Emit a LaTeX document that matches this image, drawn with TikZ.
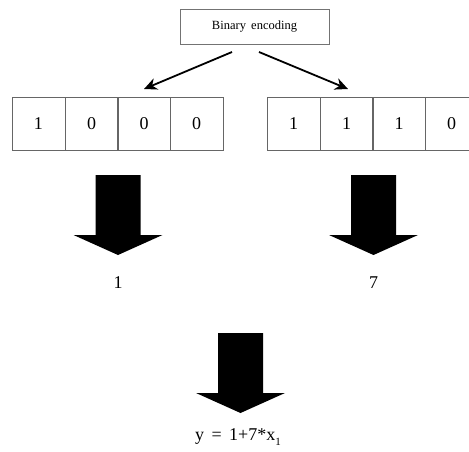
\documentclass[tikz,border=0pt]{standalone}
\usepackage{fontspec}
\setmainfont{Liberation Serif}
\usetikzlibrary{arrows.meta}
\tikzset{
  cell/.style={draw=black!60, line width=0.8pt, minimum width=53pt, minimum height=53pt, inner sep=0pt, font=\fontsize{18}{20}\selectfont},
  titlebox/.style={draw=black!55, line width=0.8pt, minimum width=149pt, minimum height=35pt, inner sep=0pt, font=\fontsize{12.5}{14}\selectfont},
  thin arrow/.style={line width=1.8pt, -{Stealth[length=13pt,width=12pt]}},
  lbl/.style={font=\fontsize{18}{20}\selectfont, inner sep=0pt},
  bigarrow/.pic={\fill[black] (-22.5,0) -- (22.5,0) -- (22.5,60) -- (44.5,60) -- (0,80) -- (-44.5,60) -- (-22.5,60) -- cycle;}
}
\begin{document}
\begin{tikzpicture}[x=1pt,y=-1pt]
\useasboundingbox (0,0) rectangle (469,452);
\node[titlebox] (enc) at (254.5,26.5) {Binary\, encoding};
% left register
\node[cell] (a1) at (38.5,123.5) {1};
\node[cell] (a2) at (91.5,123.5) {0};
\node[cell] (a3) at (144,123.5) {0};
\node[cell] (a4) at (196.5,123.5) {0};
% right register
\node[cell] (b1) at (293.5,123.5) {1};
\node[cell] (b2) at (346.5,123.5) {1};
\node[cell] (b3) at (399,123.5) {1};
\node[cell] (b4) at (451.5,123.5) {0};
\coordinate (ls) at (232,52);
\coordinate (le) at (144,89);
\coordinate (rs) at (259,52);
\coordinate (re) at (348,89);
\draw[thin arrow] (ls) -- (le);
\draw[thin arrow] (rs) -- (re);
% big arrows
\pic at (118,175) {bigarrow};
\pic at (373.5,175) {bigarrow};
\pic at (240.5,333) {bigarrow};
\node[lbl] (v1) at (118,283) {1};
\node[lbl] (v7) at (373.5,283) {7};
\node[lbl] (eq) at (238,437) {y \,=\, 1+7*x\raisebox{-5pt}{\fontsize{11}{12}\selectfont 1}};
\end{tikzpicture}
\end{document}
